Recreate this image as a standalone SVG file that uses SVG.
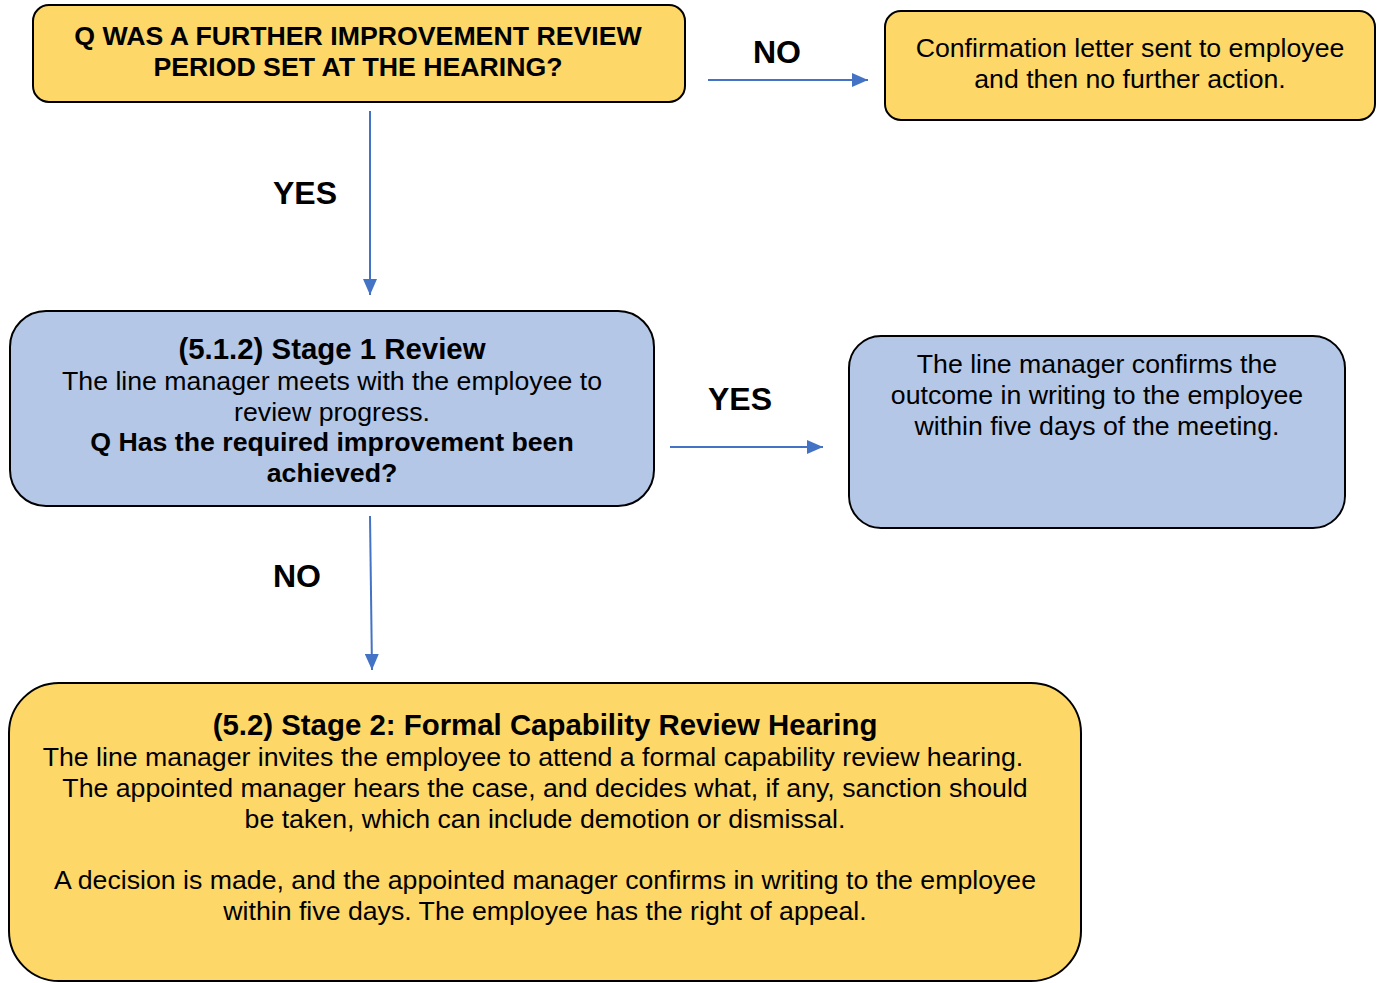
<svg xmlns="http://www.w3.org/2000/svg" width="1380" height="983" viewBox="0 0 1380 983">
<defs>
<marker id="ah" viewBox="0 0 16 14" refX="16" refY="7" markerWidth="16" markerHeight="14" markerUnits="userSpaceOnUse" orient="auto">
<path d="M0,0 L16,7 L0,14 z" fill="#4472C4"/>
</marker>
<style>
.y{fill:#FDD868;stroke:#000;stroke-width:2}
.b{fill:#B4C7E7;stroke:#000;stroke-width:2}
text{font-family:"Liberation Sans",Arial,sans-serif;fill:#000;text-anchor:middle}
.t{font-size:26.7px}
.h{font-size:29.4px;font-weight:bold}
.bd{font-weight:bold}
.lbl{font-size:32px;font-weight:bold}
.c{stroke:#4472C4;stroke-width:2;fill:none;marker-end:url(#ah)}
</style>
</defs>
<rect width="1380" height="983" fill="#fff"/>
<g id="connectors">
<line class="c" x1="708" y1="80" x2="868" y2="80"/>
<line class="c" x1="370" y1="111" x2="370" y2="295"/>
<line class="c" x1="670" y1="447" x2="823" y2="447"/>
<line class="c" x1="370" y1="516" x2="372" y2="670"/>
<text class="lbl" x="777" y="63">NO</text>
<text class="lbl" x="305" y="204">YES</text>
<text class="lbl" x="740" y="410">YES</text>
<text class="lbl" x="297" y="587">NO</text>
</g>
<g id="q1">
<rect class="y" x="33" y="5" width="652" height="97" rx="16"/>
<text class="t bd" x="358" y="45">Q WAS A FURTHER IMPROVEMENT REVIEW</text>
<text class="t bd" x="358" y="76">PERIOD SET AT THE HEARING?</text>
</g>
<g id="confirm">
<rect class="y" x="885" y="11" width="490" height="109" rx="16"/>
<text class="t" x="1130" y="57">Confirmation letter sent to employee</text>
<text class="t" x="1130" y="88">and then no further action.</text>
</g>
<g id="stage1">
<rect class="b" x="10" y="311" width="644" height="195" rx="36"/>
<text class="h" x="332" y="359">(5.1.2) Stage 1 Review</text>
<text class="t" x="332" y="390">The line manager meets with the employee to</text>
<text class="t" x="332" y="421">review progress.</text>
<text class="t bd" x="332" y="451">Q Has the required improvement been</text>
<text class="t bd" x="332" y="482">achieved?</text>
</g>
<g id="outcome">
<rect class="b" x="849" y="336" width="496" height="192" rx="32"/>
<text class="t" x="1097" y="373">The line manager confirms the</text>
<text class="t" x="1097" y="404">outcome in writing to the employee</text>
<text class="t" x="1097" y="435">within five days of the meeting.</text>
</g>
<g id="stage2">
<rect class="y" x="9" y="683" width="1072" height="298" rx="50"/>
<text class="h" x="545" y="735">(5.2) Stage 2: Formal Capability Review Hearing</text>
<text class="t" x="533" y="766">The line manager invites the employee to attend a formal capability review hearing.</text>
<text class="t" x="545" y="797">The appointed manager hears the case, and decides what, if any, sanction should</text>
<text class="t" x="545" y="828">be taken, which can include demotion or dismissal.</text>
<text class="t" x="545" y="889">A decision is made, and the appointed manager confirms in writing to the employee</text>
<text class="t" x="545" y="920">within five days. The employee has the right of appeal.</text>
</g>
</svg>
